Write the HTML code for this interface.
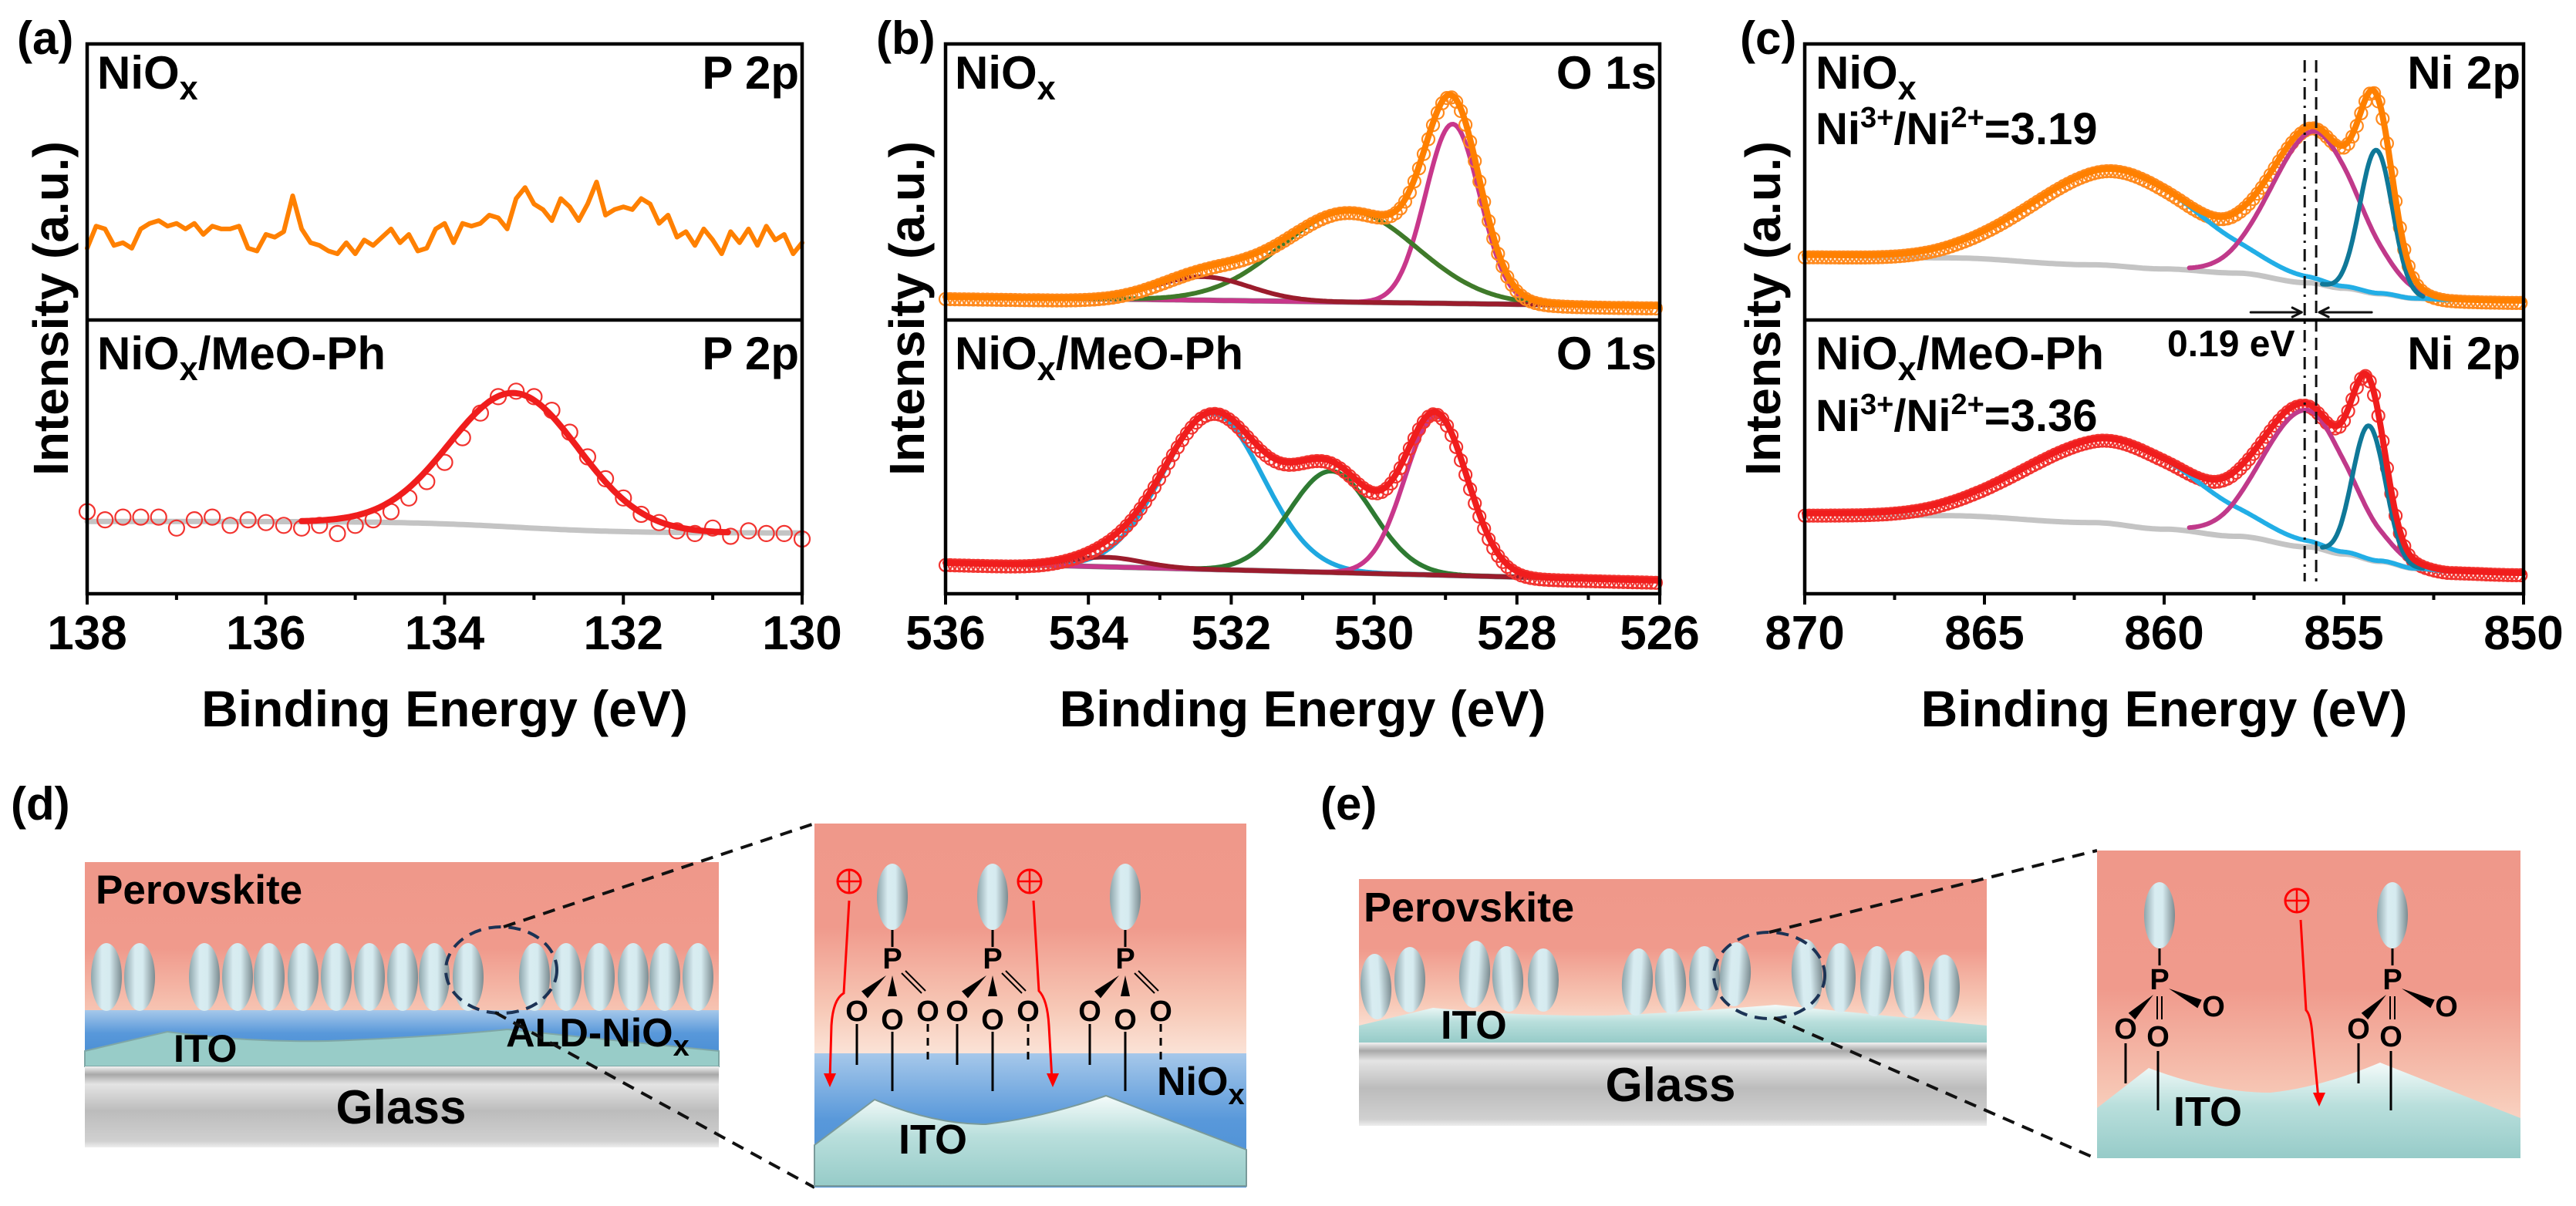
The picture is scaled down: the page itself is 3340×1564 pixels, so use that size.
<!DOCTYPE html>
<html><head><meta charset="utf-8"><title>XPS spectra and device schematics</title>
<style>
html,body{margin:0;padding:0;background:#fff;}
svg{display:block;}
text{font-family:"Liberation Sans",sans-serif;font-weight:bold;fill:#000;}
</style></head>
<body>
<svg id="fig" width="3340" height="1564" viewBox="0 0 3340 1564" xmlns="http://www.w3.org/2000/svg">
<defs>
  <linearGradient id="gPero" x1="0" y1="0" x2="0" y2="1">
    <stop offset="0" stop-color="#ef988a"/><stop offset="0.45" stop-color="#f09a8c"/><stop offset="0.8" stop-color="#f7c8b6"/><stop offset="1" stop-color="#fbe4d8"/>
  </linearGradient>
  <linearGradient id="gBlue" x1="0" y1="0" x2="0" y2="1">
    <stop offset="0" stop-color="#a6c8ea"/><stop offset="0.5" stop-color="#5898da"/><stop offset="1" stop-color="#4a8ed4"/>
  </linearGradient>
  <linearGradient id="gIto" x1="0" y1="0" x2="0" y2="1">
    <stop offset="0" stop-color="#f4fbfa"/><stop offset="0.45" stop-color="#b9dfdc"/><stop offset="1" stop-color="#96cbc8"/>
  </linearGradient>
  <linearGradient id="gGlass" x1="0" y1="0" x2="0" y2="1">
    <stop offset="0" stop-color="#f2f2f2"/><stop offset="0.1" stop-color="#a8a8a8"/><stop offset="0.22" stop-color="#e4e4e4"/><stop offset="0.55" stop-color="#bcbcbc"/><stop offset="0.92" stop-color="#d0d0d0"/><stop offset="1" stop-color="#eeeeee"/>
  </linearGradient>
  <linearGradient id="gEll" x1="0" y1="0" x2="1" y2="0">
    <stop offset="0" stop-color="#8ea5ab"/><stop offset="0.35" stop-color="#d8ecf1"/><stop offset="0.6" stop-color="#d6ebf0"/><stop offset="1" stop-color="#7b8b90"/>
  </linearGradient>
</defs>
<g id="charts"></g>
<g id="diagrams">
  <text x="14" y="1063" font-size="60">(d)</text>
  <text x="1712" y="1063" font-size="60">(e)</text>

  <g>
    <rect x="110" y="1118" width="822" height="250" fill="url(#gPero)"/>
    <rect x="110" y="1310" width="822" height="60" fill="url(#gBlue)"/>
    <path d="M110 1363 L217 1338 Q320 1352 425 1350 Q560 1345 658 1335 L932 1363 L932 1383 L110 1383 Z" fill="#98ccc8" stroke="#7fa7a6" stroke-width="2"/>
    <rect x="110" y="1383" width="822" height="105" fill="url(#gGlass)"/>
    <g id="ellD"></g>
    <text x="124" y="1172" font-size="53">Perovskite</text>
    <text x="225" y="1377" font-size="50">ITO</text>
    <text x="656" y="1357" font-size="52">ALD-NiO<tspan dy="12" font-size="38">x</tspan></text>
    <text x="520" y="1457" font-size="62" text-anchor="middle">Glass</text>
    <ellipse cx="650" cy="1258" rx="72" ry="56" fill="none" stroke="#1c3355" stroke-width="4" stroke-dasharray="16,10"/>
    <line x1="653" y1="1202" x2="1056" y2="1068" stroke="#111" stroke-width="4" stroke-dasharray="16,11"/>
    <line x1="642" y1="1313" x2="1056" y2="1540" stroke="#111" stroke-width="4" stroke-dasharray="16,11"/>
  </g>

  <g>
    <rect x="1056" y="1068" width="560" height="300" fill="url(#gPero)"/>
    <rect x="1056" y="1366" width="560" height="174" fill="url(#gBlue)"/>
    <path d="M1056 1485 L1134 1426 Q1210 1458 1278 1458 Q1350 1450 1434 1421 L1616 1491 L1616 1538 L1056 1538 Z" fill="url(#gIto)" stroke="#7a9a9a" stroke-width="2"/>
    <g id="molD"></g>
    <text x="1500" y="1420" font-size="52">NiO<tspan dy="12" font-size="38">x</tspan></text>
    <text x="1165" y="1496" font-size="54">ITO</text>
  </g>

  <g>
    <rect x="1762" y="1140" width="814" height="200" fill="url(#gPero)"/>
    <path d="M1762 1330 L1858 1307 Q1970 1318 2085 1317 Q2200 1312 2302 1303 L2576 1330 L2576 1352 L1762 1352 Z" fill="url(#gIto)"/>
    <rect x="1762" y="1352" width="814" height="108" fill="url(#gGlass)"/>
    <g id="ellE"></g>
    <text x="1768" y="1195" font-size="54">Perovskite</text>
    <text x="1868" y="1347" font-size="52">ITO</text>
    <text x="2166" y="1428" font-size="62" text-anchor="middle">Glass</text>
    <ellipse cx="2294" cy="1265" rx="72" ry="56" fill="none" stroke="#1c3355" stroke-width="4" stroke-dasharray="16,10"/>
    <line x1="2294" y1="1209" x2="2719" y2="1103" stroke="#111" stroke-width="4" stroke-dasharray="16,11"/>
    <line x1="2300" y1="1320" x2="2719" y2="1503" stroke="#111" stroke-width="4" stroke-dasharray="16,11"/>
  </g>

  <g>
    <rect x="2719" y="1103" width="549" height="399" fill="url(#gPero)"/>
    <path d="M2719 1437 L2786 1385 Q2870 1417 2944 1417 Q3010 1410 3086 1378 L3268 1450 L3268 1502 L2719 1502 Z" fill="url(#gIto)"/>
    <g id="molE"></g>
    <text x="2818" y="1460" font-size="54">ITO</text>
  </g>
</g>
</svg>
<script>
// ---------------- DATA ----------------
var aTicks = [138, 136, 134, 132, 130];
var aTickLabels = ["138", "136", "134", "132", "130"];
var aNoiseStart = 138.0;
var aNoiseStep = 0.1;
var aNoiseValues = [26,34,33,27,28,26,33,35,36,34,35,
 33,35,31,34,33,33,34,26,25,31,
 30,32,45,33,28,27,25,24,28,24,
 29,27,30,33,28,31,25,26,33,35,
 28,35,34,35,38,37,33,44,48,42,
 40,36,44,41,36,42,50,38,40,41,
 40,44,42,35,38,30,32,27,33,29,
 24,32,28,33,27,34,29,31,24,28];
var aPtsEnergy = [138.0,137.8,137.6,137.4,137.2,137.0,136.8,136.6,136.4,136.2,136.0,135.8,135.6,135.4,135.2,135.0,134.8,134.6,134.4,134.2,134.0,133.8,133.6,133.4,133.2,133.0,132.8,132.6,132.4,132.2,132.0,131.8,131.6,131.4,131.2,131.0,130.8,130.6,130.4,130.2,130.0];
var aPtsValues = [30,27,28,28,28,24,27,28,25,27,26,25,24,25,22,25,27,30,35,41,48,57,66,72,74,72,67,59,50,42,35,29,26,23,22,24,21,23,22,22,20];
var aBgStep = [26.4, 22.2, 133.2, 0.6];
var aPeakCenter = [133.22];
var aPeakAmp = [49];
var aPeakSigma = [0.72];

var bTicks = [536, 534, 532, 530, 528, 526];
var bTickLabels = ["536", "534", "532", "530", "528", "526"];
var bTopBg = [8.4, 5.0];
var bTopCenters = [528.9, 530.35, 532.4];
var bTopAmps = [65, 33, 8.5];
var bTopSigmas = [0.38, 0.95, 0.65];
var bTopColors = ["#c8378b", "#3f7a2a", "#9b1c2c"];
var bBotBg = [11.3, 4.8];
var bBotCenters = [532.26, 530.6, 529.13, 533.75];
var bBotAmps = [57, 37, 58, 3.5];
var bBotSigmas = [0.7, 0.58, 0.44, 0.5];
var bBotColors = ["#1fa8e0", "#2e7a32", "#c8378b", "#9b1c2c"];

var cTicks = [870, 865, 860, 855, 850];
var cTickLabels = ["870", "865", "860", "855", "850"];
var cBgEnergy = [870, 866, 862, 860, 858, 856, 855, 854, 853, 852, 850];
var cBgTop = [23.5, 22.5, 20, 18.5, 17, 13.5, 11.5, 9.5, 7.8, 7.3, 7];
var cBgBot = [29.3, 28.5, 26, 23.6, 21, 17.1, 14.5, 11.8, 9.2, 8.2, 7.6];
var cTopCenters = [861.4, 855.8, 854.1];
var cTopAmps = [35, 55, 52];
var cTopSigmas = [2.3, 1.2, 0.45];
var cBotCenters = [861.5, 856.05, 854.3];
var cBotAmps = [31, 50, 49];
var cBotSigmas = [2.4, 1.2, 0.45];
var cColors = ["#22aee6", "#c0398a", "#0f7898"];
var cShiftLines = [856.09, 855.77];

// ---------------- HELPERS ----------------
var NS = "http://www.w3.org/2000/svg";
var charts = document.getElementById("charts");
function mk(tag, parent) { var e = document.createElementNS(NS, tag); parent.appendChild(e); return e; }
function gauss(E, c, A, s) { return A * Math.exp(-(E - c) * (E - c) / (2 * s * s)); }
function interp(E, xs, ys) {
  if (E >= xs[0]) return ys[0];
  for (var i = 0; i < xs.length - 1; i++) {
    if (E <= xs[i] && E >= xs[i + 1]) { var t = (xs[i] - E) / (xs[i] - xs[i + 1]); var tt = (1 - Math.cos(t * Math.PI)) / 2; return ys[i] + (ys[i + 1] - ys[i]) * tt; }
  }
  return ys[ys.length - 1];
}
var TOP = 57, MID = 415, BOT = 770;
function makeAxes(x0, x1, eL, eR) {
  return {
    x: function (E) { return x0 + (eL - E) / (eL - eR) * (x1 - x0); },
    yT: function (v) { return MID - v * (MID - TOP) / 100; },
    yB: function (v) { return BOT - v * (BOT - MID) / 100; }
  };
}
function pathFrom(fn, eL, eR, step, ax, sub) {
  var d = "", first = true;
  for (var E = eL; E >= eR - 1e-9; E -= step) {
    var v = fn(E); var y = sub === "t" ? ax.yT(v) : ax.yB(v);
    d += (first ? "M" : "L") + ax.x(E).toFixed(1) + " " + y.toFixed(1); first = false;
  }
  return d;
}
function addPath(g, d, color, w, name) {
  var p = mk("path", g);
  p.setAttribute("d", d); p.setAttribute("fill", "none"); p.setAttribute("stroke", color);
  p.setAttribute("stroke-width", w); p.setAttribute("stroke-linejoin", "round"); p.setAttribute("stroke-linecap", "round");
  
  
  return p;
}
function addCircle(g, cx, cy, r, color, name) {
  var c = mk("circle", g);
  c.setAttribute("cx", cx.toFixed(1)); c.setAttribute("cy", cy.toFixed(1)); c.setAttribute("r", r);
  c.setAttribute("fill", "none"); c.setAttribute("stroke", color); c.setAttribute("stroke-width", 2.2);
  
  
}
function addText(g, x, y, size, str, anchor, name) {
  var t = mk("text", g);
  t.setAttribute("x", x); t.setAttribute("y", y); t.setAttribute("font-size", size);
  if (anchor) t.setAttribute("text-anchor", anchor);
  t.textContent = str;
  
  
  return t;
}
function addSubText(g, x, y, size, main, sub, rest, anchor, name) {
  var t = addText(g, x, y, size, "", anchor, name);
  t.appendChild(document.createTextNode(main));
  var s = document.createElementNS(NS, "tspan"); s.setAttribute("dy", 14); s.setAttribute("font-size", size * 0.72); s.textContent = sub; t.appendChild(s);
  if (rest) { var r = document.createElementNS(NS, "tspan"); r.setAttribute("dy", -14); r.textContent = rest; t.appendChild(r); }
  return t;
}
function frame(g, x0, x1, ax, ticks, labels, minorStep, eL, eR, pname) {
  var r = mk("rect", g);
  r.setAttribute("x", x0); r.setAttribute("y", TOP); r.setAttribute("width", x1 - x0); r.setAttribute("height", BOT - TOP);
  r.setAttribute("fill", "none"); r.setAttribute("stroke", "#000"); r.setAttribute("stroke-width", 4.5);
  
  
  var m = mk("line", g);
  m.setAttribute("x1", x0); m.setAttribute("x2", x1); m.setAttribute("y1", MID); m.setAttribute("y2", MID);
  m.setAttribute("stroke", "#000"); m.setAttribute("stroke-width", 4.5);
  
  
  for (var E = eL; E >= eR - 1e-9; E -= minorStep) {
    var isMaj = ticks.some(function (t) { return Math.abs(t - E) < 1e-6; });
    var tk = mk("line", g);
    tk.setAttribute("x1", ax.x(E)); tk.setAttribute("x2", ax.x(E)); tk.setAttribute("y1", BOT); tk.setAttribute("y2", BOT + (isMaj ? 14 : 8));
    tk.setAttribute("stroke", "#000"); tk.setAttribute("stroke-width", 4);
    
    
  }
  for (var i = 0; i < ticks.length; i++) {
    addText(g, ax.x(ticks[i]), 842, 62, labels[i], "middle", "x-tick-label");
  }
  addText(g, (x0 + x1) / 2, 942, 66, "Binding Energy (eV)", "middle", "x-axis-title");
}
function yTitle(g, x, name) {
  var t = addText(g, 0, 0, 64, "Intensity (a.u.)", "middle", name);
  t.setAttribute("transform", "translate(" + x + "," + 400 + ") rotate(-90)");
}

// ---------------- PANEL A ----------------
(function () {
  var x0 = 113, x1 = 1040, ax = makeAxes(x0, x1, 138, 130);
  var g = mk("g", charts);
  
  
  addText(g, 22, 70, 60, "(a)", null, "panel-label-a");
  yTitle(g, 88, "y-axis-title-a");
  var d = "";
  for (var i = 0; i < aNoiseValues.length; i++) {
    var E = aNoiseStart - i * aNoiseStep;
    d += (i ? "L" : "M") + ax.x(E).toFixed(1) + " " + ax.yT(aNoiseValues[i]).toFixed(1);
  }
  addPath(g, d, "#ff8000", 6, "niox-p2p-spectrum");
  var bg = function (E) { return aBgStep[1] + (aBgStep[0] - aBgStep[1]) / (1 + Math.exp(-(E - aBgStep[2]) / aBgStep[3])); };
  addPath(g, pathFrom(bg, 138, 130, 0.05, ax, "b"), "#c4c4c4", 7, "background-a");
  for (var j = 0; j < aPtsEnergy.length; j++) addCircle(g, ax.x(aPtsEnergy[j]), ax.yB(aPtsValues[j]), 10, "#f2332f", "data-point-a");
  var fit = function (E) { var s = 0; for (var k = 0; k < aPeakCenter.length; k++) s += gauss(E, aPeakCenter[k], aPeakAmp[k], aPeakSigma[k]); return s; };
  var dd = "", first = true;
  for (var E2 = 135.6; E2 >= 130.8; E2 -= 0.03) { dd += (first ? "M" : "L") + ax.x(E2).toFixed(1) + " " + ax.yB(bg(E2) + fit(E2)).toFixed(1); first = false; }
  addPath(g, dd, "#f01d1d", 8, "fit-envelope-a");
  addSubText(g, 126, 115, 60, "NiO", "x", null, null, "sample-label-niox-a");
  addText(g, 1036, 115, 60, "P 2p", "end", "core-level-label-a-top");
  addSubText(g, 126, 479, 60, "NiO", "x", "/MeO-Ph", null, "sample-label-meoph-a");
  addText(g, 1036, 479, 60, "P 2p", "end", "core-level-label-a-bottom");
  frame(g, x0, x1, ax, aTicks, aTickLabels, 1, 138, 130, "panel-a");
})();

// ---------------- PANEL B ----------------
(function () {
  var x0 = 1226, x1 = 2152, ax = makeAxes(x0, x1, 536, 526);
  var g = mk("g", charts);
  
  
  addText(g, 1136, 70, 60, "(b)", null, "panel-label-b");
  yTitle(g, 1198, "y-axis-title-b");
  function drawSub(sub, bgArr, cs, as, ss, cols, env, circ, tag) {
    var bg = function (E) { return bgArr[0] + (bgArr[1] - bgArr[0]) * (536 - E) / 10; };
    addPath(g, pathFrom(bg, 536, 526, 0.1, ax, sub), "#808080", 7, "background-" + tag);
    for (var k = 0; k < cs.length; k++) {
      (function (k) {
        addPath(g, pathFrom(function (E) { return bg(E) + gauss(E, cs[k], as[k], ss[k]); }, 536, 526, 0.03, ax, sub), cols[k], 6, "component-peak-" + tag);
      })(k);
    }
    var tot = function (E) { var s = bg(E); for (var k = 0; k < cs.length; k++) s += gauss(E, cs[k], as[k], ss[k]); return s; };
    for (var E = 536; E >= 526; E -= 0.065) { var y = sub === "t" ? ax.yT(tot(E)) : ax.yB(tot(E)); addCircle(g, ax.x(E), y + 3, 8, circ, "data-point-" + tag); }
    addPath(g, pathFrom(tot, 536, 526, 0.03, ax, sub), env, 8, "fit-envelope-" + tag);
  }
  drawSub("t", bTopBg, bTopCenters, bTopAmps, bTopSigmas, bTopColors, "#ff8000", "#ff8a1e", "b-top");
  drawSub("b", bBotBg, bBotCenters, bBotAmps, bBotSigmas, bBotColors, "#f01d1d", "#f2332f", "b-bottom");
  addSubText(g, 1238, 115, 60, "NiO", "x", null, null, "sample-label-niox-b");
  addText(g, 2148, 115, 60, "O 1s", "end", "core-level-label-b-top");
  addSubText(g, 1238, 479, 60, "NiO", "x", "/MeO-Ph", null, "sample-label-meoph-b");
  addText(g, 2148, 479, 60, "O 1s", "end", "core-level-label-b-bottom");
  frame(g, x0, x1, ax, bTicks, bTickLabels, 1, 536, 526, "panel-b");
})();

// ---------------- PANEL C ----------------
(function () {
  var x0 = 2340, x1 = 3272, ax = makeAxes(x0, x1, 870, 850);
  var g = mk("g", charts);
  
  
  addText(g, 2256, 70, 60, "(c)", null, "panel-label-c");
  yTitle(g, 2308, "y-axis-title-c");
  function drawSub(sub, bgArr, cs, as, ss, env, circ, tag) {
    var bg = function (E) { return interp(E, cBgEnergy, bgArr); };
    addPath(g, pathFrom(bg, 870, 850, 0.1, ax, sub), "#c4c4c4", 7, "background-" + tag);
    var tot = function (E) { var s = bg(E); for (var k = 0; k < cs.length; k++) s += gauss(E, cs[k], as[k], ss[k]); return s; };
    for (var E = 870; E >= 850; E -= 0.12) { var y = sub === "t" ? ax.yT(tot(E)) : ax.yB(tot(E)); addCircle(g, ax.x(E), y + 3, 8, circ, "data-point-" + tag); }
    var ranges = [[860.5, 852], [859.3, 852.6], [855.6, 852.8]];
    for (var k = 0; k < cs.length; k++) {
      (function (k) {
        addPath(g, pathFrom(function (E) { return bg(E) + gauss(E, cs[k], as[k], ss[k]); }, ranges[k][0], ranges[k][1], 0.04, ax, sub), cColors[k], 6, "component-peak-" + tag);
      })(k);
    }
    addPath(g, pathFrom(tot, 870, 850, 0.04, ax, sub), env, 8, "fit-envelope-" + tag);
  }
  drawSub("t", cBgTop, cTopCenters, cTopAmps, cTopSigmas, "#ff8000", "#ff8a1e", "c-top");
  drawSub("b", cBgBot, cBotCenters, cBotAmps, cBotSigmas, "#f01d1d", "#f2332f", "c-bottom");
  for (var i = 0; i < cShiftLines.length; i++) {
    var l = mk("line", g);
    l.setAttribute("x1", ax.x(cShiftLines[i])); l.setAttribute("x2", ax.x(cShiftLines[i]));
    l.setAttribute("y1", 78); l.setAttribute("y2", 754);
    l.setAttribute("stroke", "#111"); l.setAttribute("stroke-width", 3);
    l.setAttribute("stroke-dasharray", i === 0 ? "16,8,3,8" : "16,8");
    
    
  }
  var xa = ax.x(cShiftLines[0]), xb = ax.x(cShiftLines[1]);
  addPath(g, "M" + (xa - 70) + " 405 L" + (xa - 4) + " 405", "#111", 3, "shift-arrow-left");
  addPath(g, "M" + (xa - 16) + " 399 L" + (xa - 4) + " 405 L" + (xa - 16) + " 411", "#111", 3, "shift-arrowhead-left");
  addPath(g, "M" + (xb + 72) + " 405 L" + (xb + 4) + " 405", "#111", 3, "shift-arrow-right");
  addPath(g, "M" + (xb + 16) + " 399 L" + (xb + 4) + " 405 L" + (xb + 16) + " 411", "#111", 3, "shift-arrowhead-right");
  addText(g, 2810, 462, 48, "0.19 eV", null, "peak-shift-label");
  addSubText(g, 2354, 115, 60, "NiO", "x", null, null, "sample-label-niox-c");
  addText(g, 3268, 115, 60, "Ni 2p", "end", "core-level-label-c-top");
  addSubText(g, 2354, 479, 60, "NiO", "x", "/MeO-Ph", null, "sample-label-meoph-c");
  addText(g, 3268, 479, 60, "Ni 2p", "end", "core-level-label-c-bottom");
  function ratio(y, val, name) {
    var t = addText(g, 2354, y, 58, "Ni", null, name);
    var a = document.createElementNS(NS, "tspan"); a.setAttribute("dy", -22); a.setAttribute("font-size", 38); a.textContent = "3+"; t.appendChild(a);
    var b = document.createElementNS(NS, "tspan"); b.setAttribute("dy", 22); b.textContent = "/Ni"; t.appendChild(b);
    var c = document.createElementNS(NS, "tspan"); c.setAttribute("dy", -22); c.setAttribute("font-size", 38); c.textContent = "2+"; t.appendChild(c);
    var d = document.createElementNS(NS, "tspan"); d.setAttribute("dy", 22); d.textContent = "=" + val; t.appendChild(d);
  }
  ratio(187, "3.19", "ni-ratio-label-top");
  ratio(559, "3.36", "ni-ratio-label-bottom");
  frame(g, x0, x1, ax, cTicks, cTickLabels, 2.5, 870, 850, "panel-c");
})();

// ---------------- SCHEMATICS ----------------
function ell(parent, cx, cy, rx, ry, rot) {
  var e = mk("ellipse", parent);
  e.setAttribute("cx", cx); e.setAttribute("cy", cy); e.setAttribute("rx", rx); e.setAttribute("ry", ry);
  e.setAttribute("fill", "url(#gEll)");
  if (rot) e.setAttribute("transform", "rotate(" + rot + " " + cx + " " + cy + ")");
  
  
}
var dEllX = [138,181,265,308,349,393,436,479,522,563,607,693,734,777,821,862,905];
var gD = document.getElementById("ellD");
dEllX.forEach(function (x) { ell(gD, x, 1267, 20, 44, 0); });
var eEll = [[1784,1237,1322],[1828,1228,1313],[1912,1220,1307],[1955,1227,1312],[2001,1230,1312],[2123,1230,1317],[2166,1230,1315],[2210,1227,1310],[2250,1222,1305],[2343,1218,1310],[2386,1223,1313],[2432,1227,1318],[2475,1233,1320],[2521,1238,1323]];
var gE = document.getElementById("ellE");
eEll.forEach(function (p, i) { ell(gE, p[0], (p[1] + p[2]) / 2, 20, (p[2] - p[1]) / 2, (i % 3) * 3 - 3); });

function line(parent, x1, y1, x2, y2, w, col, dash, name) {
  var l = mk("line", parent);
  l.setAttribute("x1", x1); l.setAttribute("y1", y1); l.setAttribute("x2", x2); l.setAttribute("y2", y2);
  l.setAttribute("stroke", col || "#000"); l.setAttribute("stroke-width", w);
  if (dash) l.setAttribute("stroke-dasharray", dash);
  
  
}
function smallText(parent, x, y, size, s, name) {
  addText(parent, x, y, size, s, "middle", name);
}
function hole(parent, cx, cy, pts) {
  var c = mk("circle", parent);
  c.setAttribute("cx", cx); c.setAttribute("cy", cy); c.setAttribute("r", 15);
  c.setAttribute("fill", "none"); c.setAttribute("stroke", "#f00"); c.setAttribute("stroke-width", 3);
  
  
  line(parent, cx - 15, cy, cx + 15, cy, 2.5, "#f00", null, "hole-plus-h");
  line(parent, cx, cy - 15, cx, cy + 15, 2.5, "#f00", null, "hole-plus-v");
  var p = mk("path", parent);
  p.setAttribute("d", pts); p.setAttribute("fill", "none"); p.setAttribute("stroke", "#f00"); p.setAttribute("stroke-width", 3);
  
  
}
function arrowHead(parent, x, y) {
  var p = mk("path", parent);
  p.setAttribute("d", "M" + (x - 8) + " " + (y - 18) + " L" + (x + 8) + " " + (y - 18) + " L" + x + " " + y + " Z");
  p.setAttribute("fill", "#f00");
  
  
}
function wedge(parent, x1, y1, x2, y2) {
  var dx = x2 - x1, dy = y2 - y1, L = Math.sqrt(dx * dx + dy * dy), nx = -dy / L * 6, ny = dx / L * 6;
  var p = mk("path", parent);
  p.setAttribute("d", "M" + x1 + " " + y1 + " L" + (x2 + nx) + " " + (y2 + ny) + " L" + (x2 - nx) + " " + (y2 - ny) + " Z");
  p.setAttribute("fill", "#000");
  
  
}
var gMD = document.getElementById("molD");
[1157, 1287, 1459].forEach(function (x) {
  ell(gMD, x, 1163, 20, 43, 0);
  line(gMD, x, 1206, x, 1228, 3, "#000", null, "bond-stem");
  smallText(gMD, x, 1256, 38, "P", "phosphorus-label");
  wedge(gMD, x - 8, 1265, x - 36, 1290);
  wedge(gMD, x, 1265, x, 1292);
  line(gMD, x + 12, 1262, x + 38, 1288, 2, "#000", null, "double-bond-a");
  line(gMD, x + 17, 1259, x + 43, 1285, 2, "#000", null, "double-bond-b");
  smallText(gMD, x - 46, 1324, 38, "O", "oxygen-label");
  smallText(gMD, x, 1335, 38, "O", "oxygen-label");
  smallText(gMD, x + 46, 1324, 38, "O", "oxygen-label");
  line(gMD, x - 46, 1328, x - 46, 1381, 3, "#000", null, "bond-to-surface");
  line(gMD, x, 1338, x, 1415, 3, "#000", null, "bond-to-surface");
  line(gMD, x + 46, 1328, x + 46, 1378, 3, "#000", "10,8", "hydrogen-bond");
});
hole(gMD, 1101, 1143, "M1101 1168 L1094 1288 Q1080 1296 1078 1330 L1076 1400");
arrowHead(gMD, 1076, 1410);
hole(gMD, 1335, 1143, "M1340 1168 L1347 1285 Q1358 1296 1360 1330 L1364 1400");
arrowHead(gMD, 1365, 1410);
var gME = document.getElementById("molE");
[2800, 3102].forEach(function (x) {
  ell(gME, x, 1187, 20, 43, 0);
  line(gME, x, 1230, x, 1252, 3, "#000", null, "bond-stem");
  smallText(gME, x, 1283, 38, "P", "phosphorus-label");
  wedge(gME, x - 8, 1290, x - 36, 1318);
  wedge(gME, x + 12, 1282, x + 52, 1302);
  line(gME, x - 3, 1292, x - 3, 1322, 2, "#000", null, "double-bond-a");
  line(gME, x + 3, 1292, x + 3, 1322, 2, "#000", null, "double-bond-b");
  smallText(gME, x - 44, 1347, 38, "O", "oxygen-label");
  smallText(gME, x - 2, 1357, 38, "O", "oxygen-label");
  smallText(gME, x + 70, 1318, 38, "O", "oxygen-label");
  line(gME, x - 44, 1353, x - 44, 1405, 3, "#000", null, "bond-to-surface");
  line(gME, x - 2, 1363, x - 2, 1440, 3, "#000", null, "bond-to-surface");
});
hole(gME, 2978, 1168, "M2983 1193 L2990 1310 Q2996 1316 2998 1340 L3006 1425");
arrowHead(gME, 3007, 1435);
</script>
</body></html>
